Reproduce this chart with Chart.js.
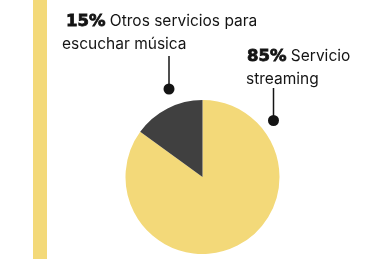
<!DOCTYPE html>
<html>
<head>
<meta charset="utf-8">
<script src="https://cdn.jsdelivr.net/npm/chart.js@4/dist/chart.umd.min.js"></script>
<style>
  html, body { margin: 0; padding: 0; background: #fff; }
  #wrap { width: 368px; height: 259px; position: relative; }
</style>
</head>
<body>
<div id="wrap"><canvas id="pie" width="368" height="259"></canvas></div>
<script>
// data
const labels = ['Servicio streaming', 'Otros servicios para escuchar música'];
const values = [85, 15];
const colors = ['#F3D979', '#404040'];

// annotation texts: bold share + rest of label, split in lines
const notes = [
  { pct: '85%', first: ' Servicio', second: 'streaming', x: 247, y: 60.5, dx: -1, line: 273.5, top: 88, dot: 120.5 },
  { pct: '15%', first: ' Otros servicios para', second: 'escuchar música', x: 66, y: 25.5, dx: -4, line: 169, top: 56, dot: 89 }
];

const FONT = 'Inter, "DejaVu Sans", sans-serif';
const BOLD = '"DejaVu Sans", Inter, sans-serif';

const decor = {
  id: 'decor',
  beforeDraw(chart) {
    const ctx = chart.ctx;
    ctx.save();
    // yellow strip on the left
    ctx.fillStyle = colors[0];
    ctx.fillRect(33, 0, 14, chart.height);
    ctx.restore();
  },
  afterDraw(chart) {
    const ctx = chart.ctx;
    ctx.save();
    ctx.fillStyle = '#141414';
    ctx.strokeStyle = '#141414';
    ctx.textBaseline = 'alphabetic';
    notes.forEach(n => {
      ctx.font = 'bold 16.5px ' + BOLD;
      ctx.lineWidth = 0.8;
      ctx.fillText(n.pct, n.x, n.y);
      ctx.strokeText(n.pct, n.x, n.y); // heavier weight like the original
      const w = ctx.measureText(n.pct).width;
      ctx.font = '400 15.5px ' + FONT;
      ctx.fillText(n.first, n.x + w, n.y);
      ctx.fillText(n.second, n.x + n.dx, n.y + 23);

      ctx.lineWidth = 1.5;
      ctx.beginPath();
      ctx.moveTo(n.line, n.top);
      ctx.lineTo(n.line, n.dot);
      ctx.stroke();
      ctx.beginPath();
      ctx.arc(n.line, n.dot, 5.5, 0, Math.PI * 2);
      ctx.fill();
    });
    ctx.restore();
  }
};

new Chart(document.getElementById('pie'), {
  type: 'pie',
  data: {
    labels: labels,
    datasets: [{
      data: values,
      backgroundColor: colors,
      borderWidth: 0
    }]
  },
  options: {
    responsive: false,
    animation: false,
    layout: { padding: { left: 125.5, right: 88.5, top: 100, bottom: 5 } },
    plugins: {
      legend: { display: false },
      tooltip: { enabled: false }
    }
  },
  plugins: [decor]
});
</script>
</body>
</html>
